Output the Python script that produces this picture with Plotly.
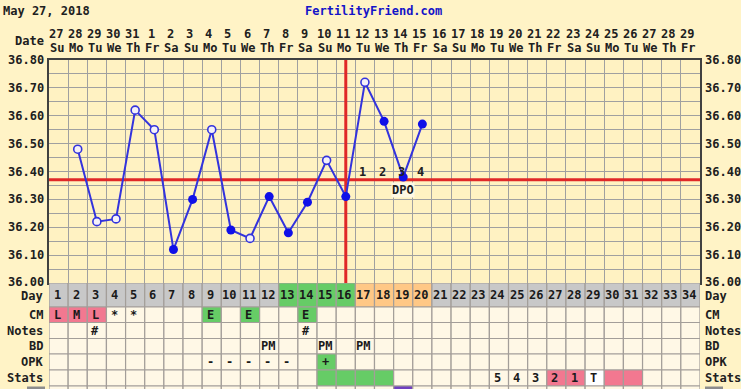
import plotly.graph_objects as go

# ---------------- data ----------------
chart_date = "May 27, 2018"
site_name = "FertilityFriend.com"
date_labels = ["27", "28", "29", "30", "31", "1", "2", "3", "4", "5", "6", "7", "8", "9",
               "10", "11", "12", "13", "14", "15", "16", "17", "18", "19", "20", "21",
               "22", "23", "24", "25", "26", "27", "28", "29"]
weekday_labels = ["Su", "Mo", "Tu", "We", "Th", "Fr", "Sa", "Su", "Mo", "Tu", "We", "Th",
                  "Fr", "Sa", "Su", "Mo", "Tu", "We", "Th", "Fr", "Sa", "Su", "Mo", "Tu",
                  "We", "Th", "Fr", "Sa", "Su", "Mo", "Tu", "We", "Th", "Fr"]
cycle_days = [1, 2, 3, 4, 5, 6, 7, 8, 9, 10, 11, 12, 13, 14, 15, 16, 17, 18, 19, 20, 21,
              22, 23, 24, 25, 26, 27, 28, 29, 30, 31, 32, 33, 34]
temp_days = [2, 3, 4, 5, 6, 7, 8, 9, 10, 11, 12, 13, 14, 15, 16, 17, 18, 19, 20]
temps = [36.48, 36.22, 36.23, 36.62, 36.55, 36.12, 36.30, 36.55, 36.19, 36.16,
         36.31, 36.18, 36.29, 36.44, 36.31, 36.72, 36.58, 36.38, 36.57]
temp_open = [True, True, True, True, True, False, False, True, False, True,
             False, False, False, True, False, True, False, False, False]
coverline = 36.37
ovulation_day = 16
dpo_days = [17, 18, 19, 20]
dpo_labels = ["1", "2", "3", "4"]
temp_tick_vals = [36.0, 36.1, 36.2, 36.3, 36.4, 36.5, 36.6, 36.7, 36.8]
temp_tick_text = ["36.00", "36.10", "36.20", "36.30", "36.40", "36.50", "36.60", "36.70", "36.80"]

row_names = ["Day", "CM", "Notes", "BD", "OPK", "Stats"]
fertile_days = [13, 14, 15, 16]
luteal_days = [17, 18, 19, 20]
cm_text = {1: "L", 2: "M", 3: "L", 4: "*", 5: "*", 9: "E", 11: "E", 14: "E"}
cm_pink = [1, 2, 3]
cm_green = [9, 11, 14]
notes_text = {3: "#", 14: "#"}
bd_text = {12: "PM", 15: "PM", 17: "PM"}
opk_text = {9: "-", 10: "-", 11: "-", 12: "-", 13: "-", 15: "+"}
opk_green = [15]
stats_text = {24: "5", 25: "4", 26: "3", 27: "2", 28: "1", 29: "T"}
stats_green = [15, 16, 17, 18]
stats_pink = [27, 28, 30, 31]
stats_white = [29]
next_row_purple = [19]

# ---------------- styling / layout ----------------
W, H = 741, 389
PX_L, PX_R = 49, 700
PY_TOP, PY_BOT = 60, 283
ROW_EDGES = [283, 307, 322.5, 338.5, 354, 370, 386]

PAGE_BG = "#FFF3C6"
PLOT_BG = "#FFF2C2"
CELL_BG = "#FFF8E6"
DAY_BG = "#C8C8C8"
GREEN = "#66CC66"
ORANGE = "#FFC886"
PINK = "#F27890"
PURPLE = "#7040C0"
GRID = "#A0A0A0"
TGRID = "#A39E99"
BLUE = "#3333DD"
RED = "#E02828"
TXT = "#1A1A1A"
FONT = "DejaVu Sans Mono"


def py(p):
    return 1 - p / H


def pxp(p):
    return p / W


fig = go.Figure()

# coverline and ovulation line
fig.add_trace(go.Scatter(x=[0.5, 34.5], y=[coverline, coverline], mode="lines",
                         line=dict(color=RED, width=3), hoverinfo="skip", cliponaxis=False))
fig.add_trace(go.Scatter(x=[ovulation_day, ovulation_day], y=[36.0, 36.8], mode="lines",
                         line=dict(color=RED, width=3), hoverinfo="skip", cliponaxis=False))

# temperature line
fig.add_trace(go.Scatter(x=temp_days, y=temps, mode="lines",
                         line=dict(color=BLUE, width=2), hoverinfo="skip"))
fx = [d for d, o in zip(temp_days, temp_open) if not o]
fy = [t for t, o in zip(temps, temp_open) if not o]
ox = [d for d, o in zip(temp_days, temp_open) if o]
oy = [t for t, o in zip(temps, temp_open) if o]
fig.add_trace(go.Scatter(x=fx, y=fy, mode="markers",
                         marker=dict(color="#1010E8", size=9, line=dict(width=0))))
fig.add_trace(go.Scatter(x=ox, y=oy, mode="markers",
                         marker=dict(color="#F4F0F8", size=8, line=dict(color=BLUE, width=1.6))))

shapes = []
annotations = []


def label(x, y, text, xref="paper", yref="paper", xanchor="center", color="#202020", **kw):
    annotations.append(dict(xref=xref, yref=yref, x=x, y=y, xanchor=xanchor, yanchor="middle",
                            text="<b>" + text + "</b>", showarrow=False,
                            font=dict(family=FONT, size=12, color=color), **kw))


# ---------------- table ----------------
def cell(day, r, fill):
    shapes.append(dict(type="rect", xref="x", yref="y2", x0=day - 0.5, x1=day + 0.5,
                       y0=ROW_EDGES[r], y1=ROW_EDGES[r + 1], fillcolor=fill,
                       line=dict(color=TGRID, width=1.2), layer="above"))


def ctext(day, r, text):
    label(day, (ROW_EDGES[r] + ROW_EDGES[r + 1]) / 2, text, xref="x", yref="y2",
          color=TXT, xshift=-1.5)


for d in cycle_days:
    if d in fertile_days:
        c = GREEN
    elif d in luteal_days:
        c = ORANGE
    else:
        c = DAY_BG
    cell(d, 0, c)
    ctext(d, 0, str(d))
    c = PINK if d in cm_pink else GREEN if d in cm_green else CELL_BG
    cell(d, 1, c)
    if d in cm_text:
        ctext(d, 1, cm_text[d])
    cell(d, 2, CELL_BG)
    if d in notes_text:
        ctext(d, 2, notes_text[d])
    cell(d, 3, CELL_BG)
    if d in bd_text:
        ctext(d, 3, bd_text[d])
    cell(d, 4, GREEN if d in opk_green else CELL_BG)
    if d in opk_text:
        ctext(d, 4, opk_text[d])
    c = GREEN if d in stats_green else PINK if d in stats_pink else "#FFFFFF" if d in stats_white else CELL_BG
    cell(d, 5, c)
    if d in stats_text:
        ctext(d, 5, stats_text[d])
    shapes.append(dict(type="rect", xref="x", yref="y2", x0=d - 0.5, x1=d + 0.5, y0=386, y1=395,
                       fillcolor=PURPLE if d in next_row_purple else CELL_BG,
                       line=dict(color=TGRID, width=1.2), layer="above"))

for x0, x1 in [(27, 45), (705, 723)]:
    shapes.append(dict(type="rect", xref="paper", yref="paper", x0=pxp(x0), x1=pxp(x1),
                       y0=py(389), y1=py(386.5), fillcolor="#8C8C8C", line=dict(width=0)))

for r, name in enumerate(row_names):
    yc = (ROW_EDGES[r] + ROW_EDGES[r + 1]) / 2
    ys = -1 if r == 0 else 0
    label(pxp(45), yc, name, yref="y2", xanchor="right", yshift=ys)
    label(pxp(703), yc, name, yref="y2", xanchor="left", yshift=ys)

for v, t in zip(temp_tick_vals, temp_tick_text):
    ys = 1 if v == 36.0 else 0
    label(pxp(46), v, t, yref="y", xanchor="right", yshift=ys)
    label(pxp(703), v, t, yref="y", xanchor="left", yshift=ys)

# header
label(pxp(1), py(11), chart_date, xanchor="left")
label(pxp(373), py(11), site_name, color="#1414C8")
label(pxp(46), py(41), "Date", xanchor="right")
for d, dl, wl in zip(cycle_days, date_labels, weekday_labels):
    label(d, py(34), dl, xref="x", xshift=-3)
    label(d, py(48), wl, xref="x", xshift=-2)

# DPO labels
for d, t in zip(dpo_days, dpo_labels):
    label(d, coverline + 0.028, t, xref="x", yref="y", xshift=-2)
label(19, coverline - 0.036, "DPO", xref="x", yref="y", bgcolor="#FFF8E4", borderpad=0)

minor_ticks = [36.0, 36.05, 36.1, 36.15, 36.2, 36.25, 36.3, 36.35, 36.4, 36.45, 36.5,
               36.55, 36.6, 36.65, 36.7, 36.75, 36.8]
col_edges = [d - 0.5 for d in cycle_days] + [34.5]

fig.update_layout(
    width=W, height=H,
    margin=dict(l=0, r=0, t=0, b=0),
    paper_bgcolor=PAGE_BG, plot_bgcolor=PLOT_BG,
    showlegend=False,
    shapes=shapes, annotations=annotations,
    xaxis=dict(domain=[pxp(PX_L), pxp(PX_R)], range=[0.5, 34.5], tickvals=col_edges,
               showticklabels=False, ticks="", showgrid=True, gridcolor=GRID, gridwidth=1,
               zeroline=False, showline=True, linecolor="#404040", linewidth=1.5, mirror=True,
               anchor="y", fixedrange=True),
    yaxis=dict(domain=[py(PY_BOT), py(PY_TOP)], range=[36.0, 36.8], tickvals=minor_ticks,
               showticklabels=False, ticks="", showgrid=True, gridcolor=GRID, gridwidth=1,
               zeroline=False, showline=True, linecolor="#404040", linewidth=1.5, mirror=True,
               anchor="x", fixedrange=True),
    yaxis2=dict(domain=[0, py(PY_BOT)], range=[389, 283], visible=False, anchor="x",
                fixedrange=True),
    font=dict(family=FONT),
)

fig.write_html("out.html", config={"displayModeBar": False},
               post_script="document.body.style.margin='0px';")
